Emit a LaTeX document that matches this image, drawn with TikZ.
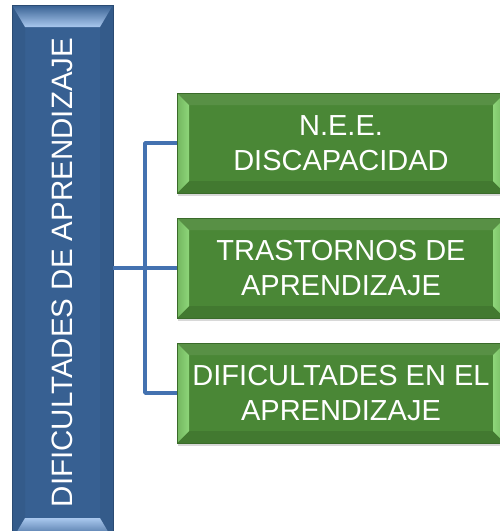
\documentclass[tikz,border=0pt]{standalone}
\usepackage{fontspec}
\setmainfont{Liberation Sans}
\usepackage{graphicx}
\usetikzlibrary{shadows}
\definecolor{blueface}{HTML}{376092}
\definecolor{bluelite}{HTML}{A9C8EE}
\definecolor{blueedge}{HTML}{2A4B73}
\definecolor{greenface}{HTML}{4A8736}
\definecolor{greenlite}{HTML}{8ED67A}
\definecolor{greenedge}{HTML}{3A6B2A}
\definecolor{linkblue}{HTML}{4472B0}
\begin{document}
\begin{tikzpicture}[x=1pt,y=1pt]
        \tikzstyle{topic}=[rectangle,draw=blueedge,line width=0.8pt,fill=blueface,text=white,
          font=\fontsize{29.5}{35}\selectfont,minimum width=101pt,minimum height=535pt,inner sep=0pt,
          drop shadow={shadow xshift=1pt,shadow yshift=-2pt,opacity=0.25},
          path picture={
            \path (path picture bounding box.north west) coordinate (a)
                  (path picture bounding box.north east) coordinate (b)
                  (path picture bounding box.south east) coordinate (c)
                  (path picture bounding box.south west) coordinate (d);
            \shade[top color=blueface, bottom color=bluelite] (a) -- (b) -- ([shift={(-13,-22)}]b) -- ([shift={(13,-22)}]a) -- cycle;
            \shade[top color=bluelite, bottom color=blueface] (d) -- (c) -- ([shift={(-13,22)}]c) -- ([shift={(13,22)}]d) -- cycle;
            \fill[black,opacity=0.05] (a) -- ([shift={(13,-22)}]a) -- ([shift={(13,22)}]d) -- (d) -- cycle;
            \fill[black,opacity=0.05] (b) -- ([shift={(-13,-22)}]b) -- ([shift={(-13,22)}]c) -- (c) -- cycle;
          }]
        \tikzstyle{branch}=[rectangle,draw=greenedge,line width=0.8pt,fill=greenface,text=white,
          font=\fontsize{29}{35}\selectfont,align=center,minimum width=328pt,minimum height=100pt,inner sep=0pt,
          drop shadow={shadow xshift=1pt,shadow yshift=-3pt,opacity=0.3},
          path picture={
            \path (path picture bounding box.north west) coordinate (a)
                  (path picture bounding box.north east) coordinate (b)
                  (path picture bounding box.south east) coordinate (c)
                  (path picture bounding box.south west) coordinate (d);
            \fill[white,opacity=0.08] (a) -- (b) -- ([shift={(-12,-12)}]b) -- ([shift={(12,-12)}]a) -- cycle;
            \fill[black,opacity=0.10] (d) -- (c) -- ([shift={(-12,12)}]c) -- ([shift={(12,12)}]d) -- cycle;
            \shade[left color=greenlite!60!greenface, right color=greenlite] (a) -- ([shift={(12,-12)}]a) -- ([shift={(12,12)}]d) -- (d) -- cycle;
            \shade[left color=greenlite, right color=greenlite!60!greenface] (b) -- ([shift={(-12,-12)}]b) -- ([shift={(-12,12)}]c) -- (c) -- cycle;
          }]
        \tikzstyle{link}=[draw=linkblue,line width=3.5pt,line join=round]

        \fill[white] (0,0) rectangle (500,-531);
        \useasboundingbox (0,0) rectangle (500,-531);
        \clip (0,0) rectangle (500,-531);

        \node [topic] (topic) at (62.5,-272.5) {\rotatebox{90}{DIFICULTADES DE APRENDIZAJE}};

        \node [branch] (nee) at (341,-143) {N.E.E.\\DISCAPACIDAD};
        \node [branch] (trast) at (341,-268) {TRASTORNOS DE\\APRENDIZAJE};
        \node [branch] (dific) at (341,-393) {DIFICULTADES EN EL\\APRENDIZAJE};

        \coordinate (fork) at (145,-268);
        \path[link] (topic.east |- trast.west) -- (trast.west);
        \path[link] (nee.west) -| (fork) |- (dific.west);
      \end{tikzpicture}
\end{document}
